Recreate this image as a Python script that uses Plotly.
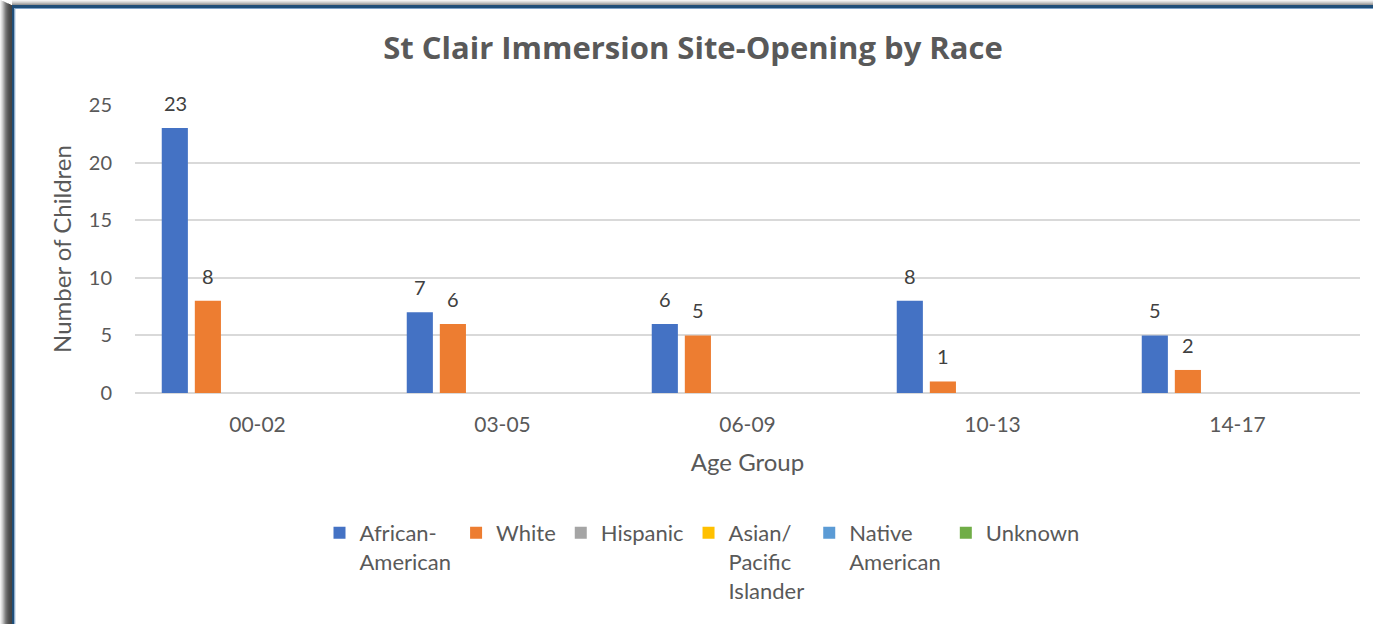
import plotly.graph_objects as go

categories = ["00-02", "03-05", "06-09", "10-13", "14-17"]
series_names = ["African-<br>American", "White", "Hispanic", "Asian/<br>Pacific<br>Islander", "Native<br>American", "Unknown"]
african_american = [23, 7, 6, 8, 5]
white = [8, 6, 5, 1, 2]
hispanic = [0, 0, 0, 0, 0]
asian_pacific = [0, 0, 0, 0, 0]
native_american = [0, 0, 0, 0, 0]
unknown = [0, 0, 0, 0, 0]
series_values = [african_american, white, hispanic, asian_pacific, native_american, unknown]
colors = ["#4472C4", "#ED7D31", "#A5A5A5", "#FFC000", "#5B9BD5", "#70AD47"]
y_ticks = [0, 5, 10, 15, 20, 25]

FONT = "Lato"
W, H = 1373, 624
L, R, T, B = 135, 13, 105, 231
SLOT = 33  # pixel pitch of bars within a group

fig = go.Figure()
annotations = []
n = len(series_values)
for i, (name, vals, col) in enumerate(zip(series_names, series_values, colors)):
    fig.add_trace(go.Bar(
        x=categories, y=vals, name=name, marker=dict(color=col, line=dict(width=0)),
    ))
    for c, v in zip(categories, vals):
        if v:
            annotations.append(dict(x=c, y=v, xref="x", yref="y", text=str(v), showarrow=False,
                                    xshift=(i - (n - 1) / 2) * SLOT, yshift=25, yanchor="middle",
                                    font=dict(family=FONT, size=20, color="#404040")))

def px_x(p):
    return (p - L) / (W - L - R)

def px_y(p):
    return (H - B - p) / (H - T - B)

shapes = []
grays = ["#f2f2f2", "#e0e0e0", "#cccccc", "#b3b3b3", "#999999", "#808080", "#6e6e6e", "#606060", "#555555", "#4d4d4d", "#474747", "#444444"]
for i, g in enumerate(grays):
    shapes.append(dict(type="rect", xref="paper", yref="paper", x0=px_x(i), x1=px_x(i + 1), y0=px_y(H + 5), y1=px_y(i * 0.45), fillcolor=g, line=dict(width=0), layer="above"))
for i, g in enumerate(grays[:5]):
    shapes.append(dict(type="rect", xref="paper", yref="paper", x0=px_x(12), x1=px_x(W + 5), y0=px_y(i + 1), y1=px_y(i), fillcolor=g, line=dict(width=0), layer="above"))
shapes.append(dict(type="rect", xref="paper", yref="paper", x0=px_x(12), x1=px_x(14.3), y0=px_y(H + 5), y1=px_y(5), fillcolor="#1F4E79", line=dict(width=0), layer="above"))
shapes.append(dict(type="rect", xref="paper", yref="paper", x0=px_x(12), x1=px_x(W + 5), y0=px_y(8), y1=px_y(5), fillcolor="#1F4E79", line=dict(width=0), layer="above"))
shapes.append(dict(type="line", xref="paper", yref="paper", x0=px_x(14.8), x1=px_x(14.8), y0=px_y(H + 5), y1=px_y(8), line=dict(color="#7FA3C9", width=1), layer="above"))
shapes.append(dict(type="line", xref="paper", yref="paper", x0=px_x(14.8), x1=px_x(W + 5), y0=px_y(8.5), y1=px_y(8.5), line=dict(color="#7FA3C9", width=1), layer="above"))

fig.update_layout(
    width=W, height=H,
    margin=dict(l=L, r=R, t=T, b=B, autoexpand=False),
    paper_bgcolor="white", plot_bgcolor="white",
    font=dict(family=FONT, color="#595959"),
    title=dict(text="<b>St Clair Immersion Site-Opening by Race</b>", x=693 / W, xref="container", xanchor="center",
               y=1 - 48 / H, yref="container", yanchor="middle", font=dict(family="Open Sans", size=31, color="#595959")),
    barmode="group", bargap=0.19, bargroupgap=0.21,
    showlegend=True,
    legend=dict(orientation="h", x=702 / W, xanchor="center", xref="container", y=1 - 512 / H, yref="container", yanchor="top",
                valign="top", font=dict(family=FONT, size=22, color="#595959"), traceorder="normal",
                itemwidth=30, tracegroupgap=0),
    shapes=shapes,
    annotations=annotations,
)
fig.update_yaxes(range=[0, 25], tickvals=y_ticks, showgrid=True, gridcolor="#D9D9D9", gridwidth=1.5,
                 zeroline=True, zerolinecolor="#D9D9D9", zerolinewidth=1.5, showline=False,
                 tickfont=dict(family=FONT, size=20, color="#595959"), ticklabelstandoff=22,
                 title=dict(text="Number of Children", font=dict(family=FONT, size=24, color="#595959"), standoff=10))
fig.update_xaxes(type="category", showgrid=False, showline=False, tickfont=dict(family=FONT, size=21, color="#595959"),
                 ticklabelstandoff=17,
                 title=dict(text="Age Group", font=dict(family=FONT, size=24, color="#595959"), standoff=19))

fig.write_html("out.html", config={"displayModeBar": False},
               post_script="document.body.style.margin='0';document.body.style.overflow='hidden';")
